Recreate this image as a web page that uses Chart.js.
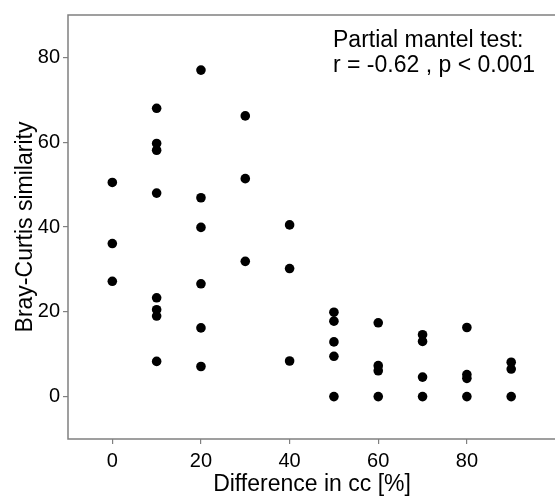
<!DOCTYPE html>
<html>
<head>
<meta charset="utf-8">
<script src="https://cdn.jsdelivr.net/npm/chart.js@4"></script>
<style>
  body { margin: 0; background: #fff; }
</style>
</head>
<body>
<canvas id="myChart" width="555" height="500"></canvas>
<script>
// difference in cc [%] and Bray-Curtis similarity
const diffCc = [
  0, 0, 0,
  10, 10, 10, 10, 10, 10, 10, 10,
  20, 20, 20, 20, 20, 20,
  30, 30, 30,
  40, 40, 40,
  50, 50, 50, 50, 50,
  60, 60, 60, 60,
  70, 70, 70, 70,
  80, 80, 80, 80,
  90, 90, 90
];
const similarity = [
  50.5, 36.1, 27.2,
  68.0, 59.7, 58.1, 48.0, 23.3, 20.5, 19.0, 8.3,
  77.0, 46.9, 39.9, 26.6, 16.2, 7.1,
  66.2, 51.4, 31.9,
  40.5, 30.2, 8.4,
  19.9, 17.8, 12.9, 9.5, 0,
  17.4, 7.3, 6.1, 0,
  14.6, 13.0, 4.6, 0,
  16.3, 5.2, 4.3, 0,
  8.1, 6.5, 0
];
const xTicks = [0, 20, 40, 60, 80];
const yTicks = [0, 20, 40, 60, 80];
const xTitle = 'Difference in cc [%]';
const yTitle = 'Bray-Curtis similarity';
const note = ['Partial mantel test:', 'r = -0.62 , p < 0.001'];

const points = diffCc.map((x, i) => ({ x: x, y: similarity[i] }));
const font = '"Liberation Sans", Arial, sans-serif';

// box (open on the right), axis titles and the test result
const extras = {
  id: 'extras',
  afterDraw(chart) {
    const { ctx, chartArea: a } = chart;
    ctx.save();
    ctx.strokeStyle = '#808080';
    ctx.lineWidth = 1.5;
    ctx.beginPath();
    ctx.moveTo(chart.width, a.top);
    ctx.lineTo(a.left, a.top);
    ctx.lineTo(a.left, a.bottom);
    ctx.lineTo(chart.width, a.bottom);
    ctx.stroke();

    ctx.fillStyle = '#000';
    ctx.font = '23px ' + font;
    ctx.textAlign = 'center';
    ctx.textBaseline = 'alphabetic';
    ctx.fillText(xTitle, 312, 491);

    ctx.translate(32, (a.top + a.bottom) / 2);
    ctx.rotate(-Math.PI / 2);
    ctx.fillText(yTitle, 0, 0);
    ctx.restore();

    ctx.save();
    ctx.fillStyle = '#000';
    ctx.font = '23px ' + font;
    ctx.textAlign = 'left';
    ctx.fillText(note[0], 333, 47);
    ctx.fillText(note[1], 333, 72);
    ctx.restore();
  }
};

const ctx = document.getElementById('myChart').getContext('2d');
const myChart = new Chart(ctx, {
  type: 'scatter',
  data: {
    datasets: [{
      data: points,
      backgroundColor: '#000',
      borderWidth: 0,
      pointRadius: 4.8,
      pointHoverRadius: 4.8
    }]
  },
  options: {
    responsive: false,
    animation: false,
    layout: { padding: { top: 9, right: 1, left: 0, bottom: 0 } },
    plugins: { legend: { display: false }, tooltip: { enabled: false } },
    scales: {
      x: {
        type: 'linear',
        min: -10,
        max: 98.8,
        afterBuildTicks: (s) => { s.ticks = xTicks.map(v => ({ value: v })); },
        afterFit: (s) => { s.height = 61; },
        border: { display: false },
        grid: { drawOnChartArea: false, tickLength: 5, color: '#808080', lineWidth: 1.2 },
        ticks: { color: '#000', padding: 5, font: { size: 20, family: font } }
      },
      y: {
        min: -10,
        max: 90,
        afterBuildTicks: (s) => { s.ticks = yTicks.map(v => ({ value: v })); },
        afterFit: (s) => { s.width = 68; },
        border: { display: false },
        grid: { drawOnChartArea: false, tickLength: 5, color: '#808080', lineWidth: 1.2 },
        ticks: { color: '#000', padding: 3, font: { size: 20, family: font } }
      }
    }
  },
  plugins: [extras]
});
</script>
</body>
</html>
